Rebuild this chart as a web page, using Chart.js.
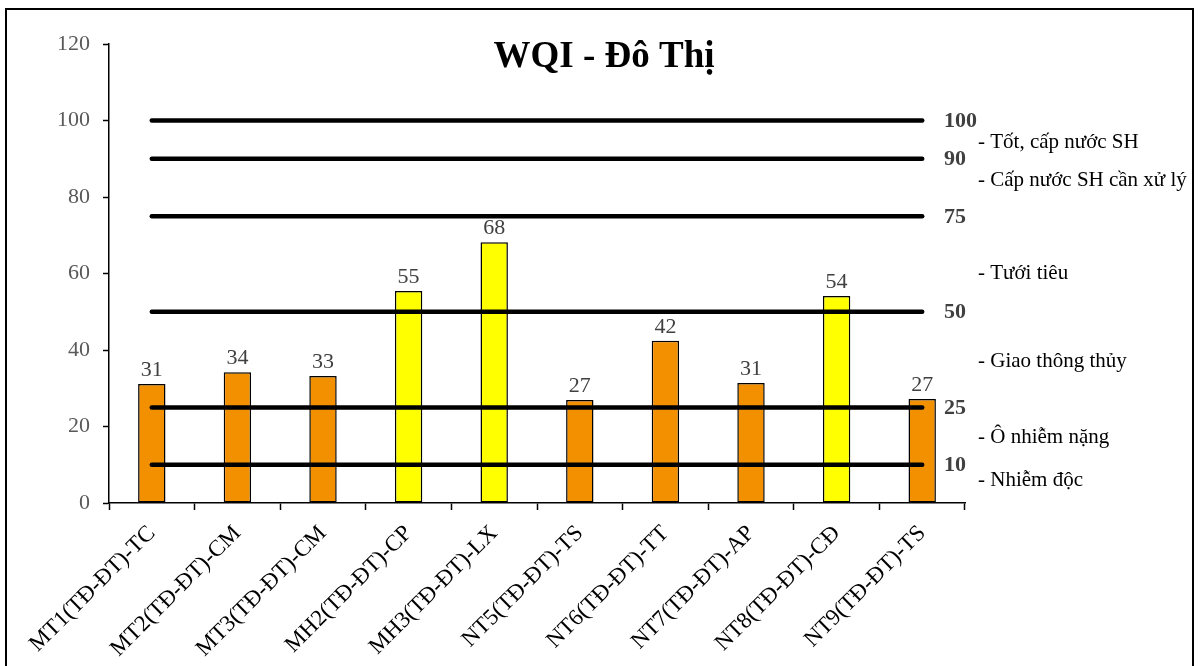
<!DOCTYPE html>
<html>
<head>
<meta charset="utf-8">
<script src="https://cdn.jsdelivr.net/npm/chart.js@4.4.1/dist/chart.umd.min.js"></script>
<style>
  html, body { margin: 0; padding: 0; background: #fff; }
  #wrap { width: 1201px; height: 666px; position: relative; }
</style>
</head>
<body>
<div id="wrap"><canvas id="wqiChart" width="1201" height="666"></canvas></div>
<script>
// Data
const stations = ['MT1(TĐ-ĐT)-TC', 'MT2(TĐ-ĐT)-CM', 'MT3(TĐ-ĐT)-CM', 'MH2(TĐ-ĐT)-CP', 'MH3(TĐ-ĐT)-LX',
                  'NT5(TĐ-ĐT)-TS', 'NT6(TĐ-ĐT)-TT', 'NT7(TĐ-ĐT)-AP', 'NT8(TĐ-ĐT)-CĐ', 'NT9(TĐ-ĐT)-TS'];
const wqiValues = [31.1, 34.2, 33.2, 55.4, 68.2, 26.9, 42.4, 31.4, 54.1, 27.2];
const thresholds = [100, 90, 75, 50, 25, 10];
const classNames = ['- Tốt, cấp nước SH', '- Cấp nước SH cần xử lý', '- Tưới tiêu', '- Giao thông thủy', '- Ô nhiễm nặng', '- Nhiễm độc'];
const classLevels = [94.3, 84.2, 60.1, 37.1, 17, 6];
const yTicks = [0, 20, 40, 60, 80, 100, 120];

const FONT = '"Liberation Serif", "Times New Roman", serif';

// Bars at 50 or more are yellow, the rest orange
const barColors = wqiValues.map(v => v >= 50 ? '#FFFF00' : '#F39000');

// One flat line for each threshold
const lineSets = thresholds.map(t => ({
    type: 'line',
    data: stations.map(() => t),
    borderColor: '#000',
    borderWidth: 4.5,
    borderCapStyle: 'round',
    pointRadius: 0,
    tension: 0,
    order: 0
}));

// Extra texts: title, bar values, threshold labels
const extraText = {
    id: 'extraText',
    beforeDraw(chart) {
        const ctx = chart.ctx;
        ctx.save();
        ctx.fillStyle = '#fff';
        ctx.fillRect(0, 0, chart.width, chart.height);
        ctx.restore();
    },
    afterDraw(chart) {
        const ctx = chart.ctx;
        const y = chart.scales.y;
        const area = chart.chartArea;
        ctx.save();

        // outer frame
        ctx.strokeStyle = '#000';
        ctx.lineWidth = 2;
        ctx.strokeRect(6, 9, 1187, 700);

        // title
        ctx.fillStyle = '#000';
        ctx.font = 'bold 37px ' + FONT;
        ctx.textAlign = 'center';
        ctx.textBaseline = 'alphabetic';
        ctx.fillText('WQI - Đô Thị', 604, 67);

        // values on top of bars
        const bars = chart.getDatasetMeta(0).data;
        ctx.font = '22px ' + FONT;
        ctx.fillStyle = '#404040';
        bars.forEach((bar, i) => {
            ctx.fillText(Math.round(wqiValues[i]).toString(), bar.x, bar.y - 8);
        });

        // threshold numbers
        ctx.textAlign = 'left';
        ctx.textBaseline = 'middle';
        ctx.font = 'bold 22px ' + FONT;
        ctx.fillStyle = '#404040';
        thresholds.forEach(t => {
            ctx.fillText(String(t), area.right - 21, y.getPixelForValue(t) + 1);
        });

        // class names
        ctx.font = '21px ' + FONT;
        ctx.fillStyle = '#000';
        classNames.forEach((name, i) => {
            ctx.fillText(name, area.right + 13, y.getPixelForValue(classLevels[i]));
        });
        ctx.restore();
    }
};

const ctx = document.getElementById('wqiChart').getContext('2d');
const wqiChart = new Chart(ctx, {
    data: {
        labels: stations,
        datasets: [
            {
                type: 'bar',
                data: wqiValues,
                backgroundColor: barColors,
                borderColor: '#000',
                borderWidth: 1.5,
                borderSkipped: false,
                categoryPercentage: 1,
                barPercentage: 0.32,
                order: 1
            },
            ...lineSets
        ]
    },
    options: {
        responsive: false,
        animation: false,
        layout: { padding: { top: 44, right: 236, left: 0, bottom: 0 } },
        plugins: {
            legend: { display: false },
            tooltip: { enabled: false }
        },
        scales: {
            x: {
                offset: true,
                grid: { display: true, drawOnChartArea: false, offset: true, color: '#000', tickLength: 7, tickWidth: 1.5 },
                border: { display: true, color: '#000', width: 1.5 },
                ticks: {
                    minRotation: 45,
                    maxRotation: 45,
                    color: '#000',
                    padding: 10,
                    font: { family: FONT, size: 23 }
                },
                afterFit(scale) { scale.height = 163; }
            },
            y: {
                min: 0,
                max: 120,
                afterBuildTicks(scale) { scale.ticks = yTicks.map(v => ({ value: v })); },
                grid: { display: true, drawOnChartArea: false, color: '#000', tickLength: 6, tickWidth: 1.5 },
                border: { display: true, color: '#000', width: 1.5 },
                ticks: {
                    color: '#595959',
                    padding: 13,
                    font: { family: FONT, size: 22 }
                },
                afterFit(scale) { scale.width = 109; }
            }
        }
    },
    plugins: [extraText]
});
</script>
</body>
</html>
